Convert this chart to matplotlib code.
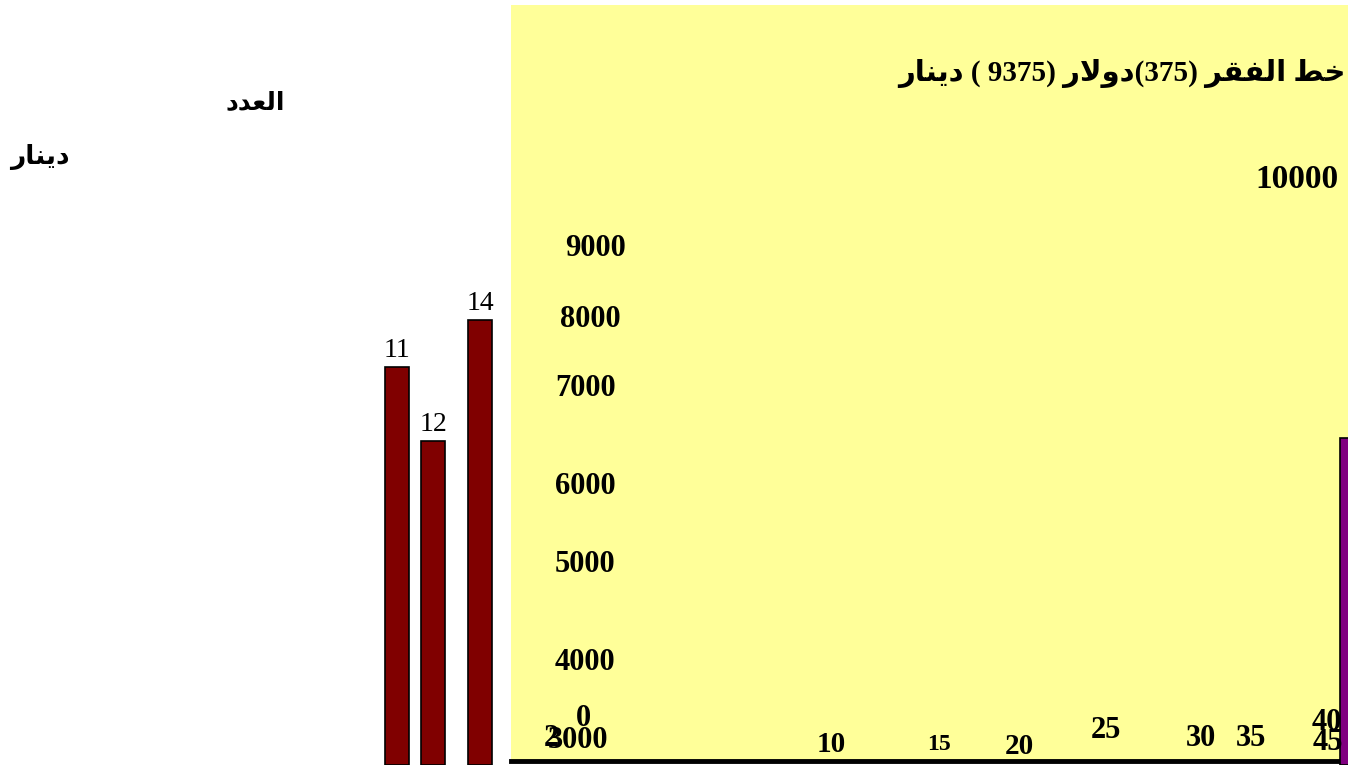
import matplotlib
matplotlib.use("Agg")
import matplotlib.pyplot as plt

W, H = 1348, 765

# bars left of the plot area: label above each bar, height in dinar
bar_labels = ["11", "12", "14"]
bar_values = [7300, 6200, 8000]
# the single bar at the right edge of the plot area
edge_value = 6250

# value labels scattered over the plot area
y_labels = ["10000", "9000", "8000", "7000", "6000", "5000", "4000", "3000", "2"]
x_labels = ["0", "10", "15", "20", "25", "30", "35", "40", "45"]

# arabic words, pre-shaped (presentation forms, visual order)
dinar = "\uFEAD\uFE8E\uFEE8\uFEF3\uFEA9"        # دينار
dollar = "\uFEAD\uFEFB\uFEED\uFEA9"             # دولار
faqr = "\uFEAE\uFED8\uFED4\uFEDF\uFE8D"         # الفقر
khat = "\uFEC2\uFEA7"                           # خط
adad = "\uFEA9\uFEAA\uFECC\uFEDF\uFE8D"         # العدد
title = dinar + " ( 9375) " + dollar + "(375) " + faqr + " " + khat

FAM = ["Liberation Serif", "DejaVu Sans"]


def px(x, y):
    return x / W, 1 - y / H


fig = plt.figure(figsize=(W / 100, H / 100), dpi=100)

# yellow plot area with the heavy base line
plot = fig.add_axes([511 / W, 4 / H, 837 / W, 756 / H])
plot.set_facecolor("#FFFF99")
plot.set_xticks([])
plot.set_yticks([])
for side in ["top", "left", "right"]:
    plot.spines[side].set_visible(False)
plot.spines["bottom"].set_linewidth(3.5)

# transparent overlay carrying the bars, pixel x and dinar y
ax = fig.add_axes([0, 0, 1, 1])
ax.set_xlim(0, W)
ax.set_ylim(1370, 12770)
ax.axis("off")

bar_x = [397, 433, 480]
bars = ax.bar(bar_x, [v - 1370 for v in bar_values], bottom=1370, width=24,
              color="#800000", edgecolor="black", linewidth=1.2)
for b, lab, v in zip(bars, bar_labels, bar_values):
    ax.annotate(lab, (b.get_x() + b.get_width() / 2, v), xytext=(0, 3),
                textcoords="offset points", ha="center", va="bottom",
                fontsize=20, family="Liberation Serif")

ax.bar([1352], [edge_value - 1370], bottom=1370, width=24,
       color="#800080", edgecolor="black", linewidth=1.2)

# headings
fig.text(*px(1346, 73), title, ha="right", va="center", fontsize=21,
         fontweight="bold", family=FAM)
fig.text(*px(255, 103), adad, ha="center", va="center", fontsize=18,
         fontweight="bold", family=FAM)
fig.text(*px(40, 157), dinar, ha="center", va="center", fontsize=19,
         fontweight="bold", family=FAM)

# scattered value labels
y_pos = [(1297, 179, 24), (596, 249, 22), (590, 319, 22), (586, 389, 22),
         (585, 487, 22), (585, 565, 22), (585, 662, 22), (578, 740, 22),
         (551, 739, 22)]
for lab, (x, y, s) in zip(y_labels, y_pos):
    fig.text(*px(x, y), lab, ha="center", va="center", fontsize=s,
             fontweight="bold", family="Liberation Serif")

x_pos = [(583, 718, 22), (831, 745, 21), (939, 744, 17), (1019, 746, 21),
         (1106, 730, 22), (1201, 738, 22), (1251, 738, 22), (1327, 723, 22),
         (1328, 743, 22)]
for lab, (x, y, s) in zip(x_labels, x_pos):
    fig.text(*px(x, y), lab, ha="center", va="center", fontsize=s,
             fontweight="bold", family="Liberation Serif")

fig.savefig("out.png", dpi=100)
